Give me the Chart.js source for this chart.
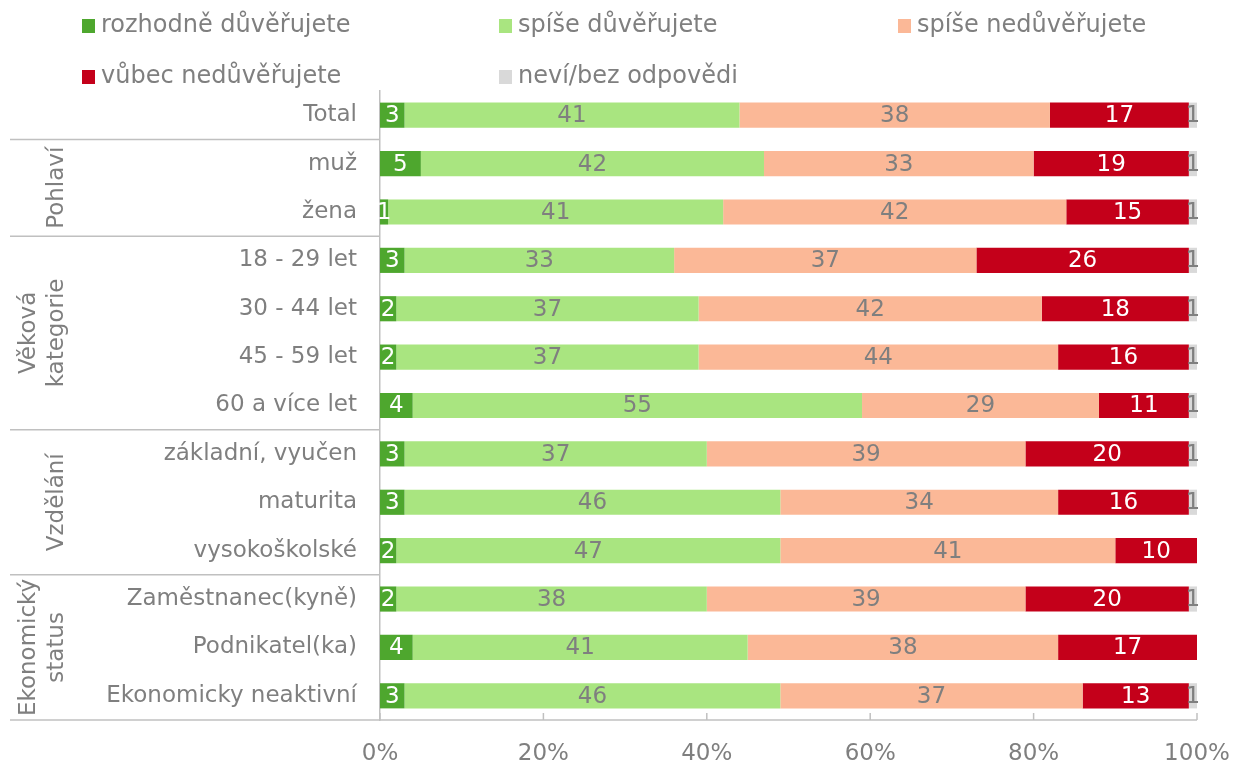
<!DOCTYPE html>
<html>
<head>
<meta charset="utf-8">
<script src="https://cdn.jsdelivr.net/npm/chart.js@4"></script>
<style>
  body { margin: 0; background: #fff; }
  #wrap { width: 1234px; height: 763px; position: relative; }
</style>
</head>
<body>
<div id="wrap"><canvas id="chart"></canvas></div>
<script>
const categories = ['Total', 'muž', 'žena', '18 - 29 let', '30 - 44 let', '45 - 59 let', '60 a více let',
  'základní, vyučen', 'maturita', 'vysokoškolské', 'Zaměstnanec(kyně)', 'Podnikatel(ka)', 'Ekonomicky neaktivní'];
const seriesNames = ['rozhodně důvěřujete', 'spíše důvěřujete', 'spíše nedůvěřujete', 'vůbec nedůvěřujete', 'neví/bez odpovědi'];
const rozhodneDuverujete = [3, 5, 1, 3, 2, 2, 4, 3, 3, 2, 2, 4, 3];
const spiseDuverujete = [41, 42, 41, 33, 37, 37, 55, 37, 46, 47, 38, 41, 46];
const spiseNeduverujete = [38, 33, 42, 37, 42, 44, 29, 39, 34, 41, 39, 38, 37];
const vubecNeduverujete = [17, 19, 15, 26, 18, 16, 11, 20, 16, 10, 20, 17, 13];
const neviBezOdpovedi = [1, 1, 1, 1, 1, 1, 1, 1, 1, 0, 1, 0, 1];
const xTicks = [0, 20, 40, 60, 80, 100];
// groups of rows: label lines, first row, last row
const groupLabels = [['Pohlaví'], ['Věková', 'kategorie'], ['Vzdělání'], ['Ekonomický', 'status']];
const groupFrom = [1, 3, 7, 10];
const groupTo = [2, 6, 9, 12];

const colors = ['#4ea72e', '#a9e580', '#fbb897', '#c4001a', '#d9d9d9'];
const labelColors = ['#ffffff', '#7f7f7f', '#7f7f7f', '#ffffff', '#7f7f7f'];
const gray = '#7f7f7f';
const lineColor = '#c0c0c0';
const FONT = '"DejaVu Sans", Verdana, sans-serif';

const allSeries = [rozhodneDuverujete, spiseDuverujete, spiseNeduverujete, vubecNeduverujete, neviBezOdpovedi];

const extras = {
  id: 'extras',
  afterDraw(chart) {
    const ctx = chart.ctx;
    const area = chart.chartArea;
    const xs = chart.scales.x, ys = chart.scales.y;
    ctx.save();

    // legend (3 columns, 2 rows)
    const colX = [82, 499, 898];
    const rowY = [26, 77];
    ctx.font = '24px ' + FONT;
    ctx.textBaseline = 'middle';
    ctx.textAlign = 'left';
    chart.data.datasets.forEach((ds, i) => {
      const x = colX[i % 3], y = rowY[Math.floor(i / 3)];
      ctx.fillStyle = ds.backgroundColor;
      ctx.fillRect(x, y - 7, 13, 14);
      ctx.fillStyle = gray;
      ctx.fillText(ds.label, x + 19, y);
    });

    // lines
    ctx.strokeStyle = lineColor;
    ctx.lineWidth = 1.5;
    const rowEdge = i => (ys.getPixelForValue(i) + ys.getPixelForValue(i + 1)) / 2;
    groupFrom.forEach(f => {
      const y = rowEdge(f - 1);
      ctx.beginPath(); ctx.moveTo(10, y); ctx.lineTo(area.left, y); ctx.stroke();
    });
    ctx.beginPath(); ctx.moveTo(10, area.bottom); ctx.lineTo(area.right, area.bottom); ctx.stroke();
    xTicks.forEach(v => {
      const x = xs.getPixelForValue(v);
      ctx.beginPath(); ctx.moveTo(x, area.bottom); ctx.lineTo(x, area.bottom - 7); ctx.stroke();
    });

    // group labels, rotated
    ctx.font = '23px ' + FONT;
    ctx.fillStyle = gray;
    ctx.textAlign = 'center';
    groupLabels.forEach((lines, g) => {
      const top = rowEdge(groupFrom[g] - 1);
      const bottom = groupTo[g] === categories.length - 1 ? area.bottom : rowEdge(groupTo[g]);
      const cy = (top + bottom) / 2;
      lines.forEach((t, i) => {
        const cx = 57 - (lines.length - 1 - i) * 28;
        ctx.save();
        ctx.translate(cx, cy);
        ctx.rotate(-Math.PI / 2);
        ctx.fillText(t, 0, 0);
        ctx.restore();
      });
    });

    // value labels
    ctx.font = '23px ' + FONT;
    chart.data.datasets.forEach((ds, i) => {
      const meta = chart.getDatasetMeta(i);
      meta.data.forEach((bar, j) => {
        const v = ds.data[j];
        if (!v) return;
        ctx.fillStyle = labelColors[i];
        ctx.fillText(String(v), (bar.x + bar.base) / 2, bar.y + 1);
      });
    });
    ctx.restore();
  }
};

new Chart(document.getElementById('chart'), {
  type: 'bar',
  data: {
    labels: categories,
    datasets: allSeries.map((d, i) => ({
      label: seriesNames[i],
      data: d,
      backgroundColor: colors[i],
      borderWidth: 0,
      barPercentage: 0.52,
      categoryPercentage: 1
    }))
  },
  options: {
    indexAxis: 'y',
    responsive: true,
    maintainAspectRatio: false,
    animation: false,
    layout: { padding: { top: 91, left: 10, right: 37, bottom: 0 } },
    plugins: { legend: { display: false }, tooltip: { enabled: false } },
    scales: {
      x: {
        stacked: true,
        min: 0,
        max: 100,
        afterBuildTicks: s => { s.ticks = xTicks.map(v => ({ value: v })); },
        afterFit: s => { s.height = 43; s.paddingLeft = 0; s.paddingRight = 0; },
        grid: { display: false, drawTicks: false },
        border: { display: false },
        ticks: {
          padding: 20,
          color: gray,
          font: { family: FONT, size: 23 },
          callback: v => v + '%'
        }
      },
      y: {
        stacked: true,
        afterFit: s => { s.width = 370; },
        grid: { display: false, drawTicks: false },
        border: { display: true, color: lineColor, width: 1.5 },
        ticks: {
          padding: 23,
          color: gray,
          font: { family: FONT, size: 23 }
        }
      }
    }
  },
  plugins: [extras]
});
</script>
</body>
</html>
